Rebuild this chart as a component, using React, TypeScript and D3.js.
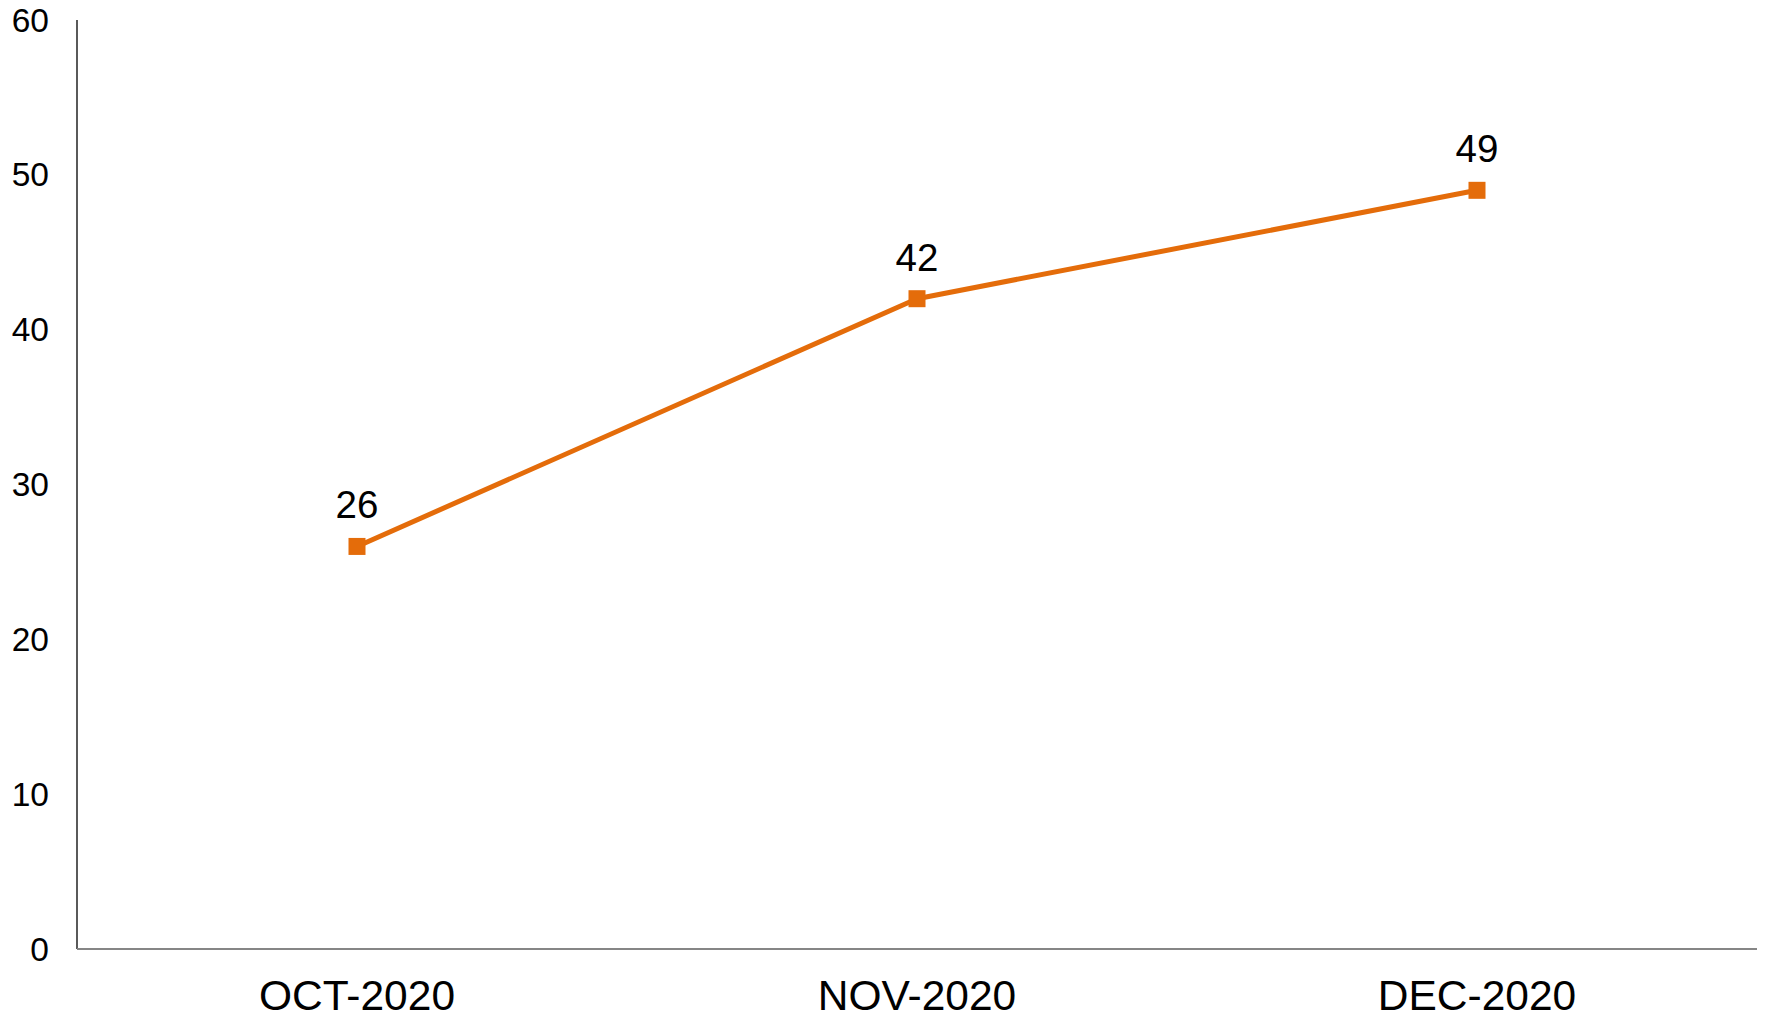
import React from "react";
import * as d3 from "d3";

const categories = ["OCT-2020", "NOV-2020", "DEC-2020"];
const values = [26, 42, 49];
const yTicks = [0, 10, 20, 30, 40, 50, 60];

const W = 1766;
const H = 1020;
const left = 77;
const right = 1757;
const top = 20;
const bottom = 949;
const ORANGE = "#E46C0A";
const FONT = "'Liberation Sans', Arial, sans-serif";

export default function App() {
  const x = d3.scaleBand<string>().domain(categories).range([left, right]);
  const y = d3.scaleLinear().domain([0, 60]).range([bottom, top]);
  const cx = (c: string) => (x(c) as number) + x.bandwidth() / 2;
  const pts = categories.map((c, i) => [cx(c), y(values[i])] as [number, number]);
  const line = d3.line();
  return (
    <svg width={W} height={H} style={{ position: "absolute", left: 0, top: 0, background: "#fff" }} fontFamily={FONT}>
      <line x1={left} x2={left} y1={top} y2={bottom} stroke="#000" strokeWidth={1.3} />
      <line x1={left} x2={right} y1={bottom} y2={bottom} stroke="#868686" strokeWidth={2} />
      {yTicks.map((t) => (
        <text key={t} x={49} y={y(t)} textAnchor="end" dominantBaseline="central" fontSize={33.5} fill="#000">
          {t}
        </text>
      ))}
      {categories.map((c) => (
        <text key={c} x={cx(c)} y={1010} textAnchor="middle" fontSize={42.5} fill="#000">
          {c}
        </text>
      ))}
      <path d={line(pts) || ""} fill="none" stroke={ORANGE} strokeWidth={5} strokeLinejoin="round" />
      {pts.map((p, i) => (
        <rect key={i} x={p[0] - 8.5} y={p[1] - 8.5} width={17} height={17} fill={ORANGE} />
      ))}
      {pts.map((p, i) => (
        <text key={"l" + i} x={p[0]} y={p[1] - 28} textAnchor="middle" fontSize={38.5} fill="#000">
          {values[i]}
        </text>
      ))}
    </svg>
  );
}
